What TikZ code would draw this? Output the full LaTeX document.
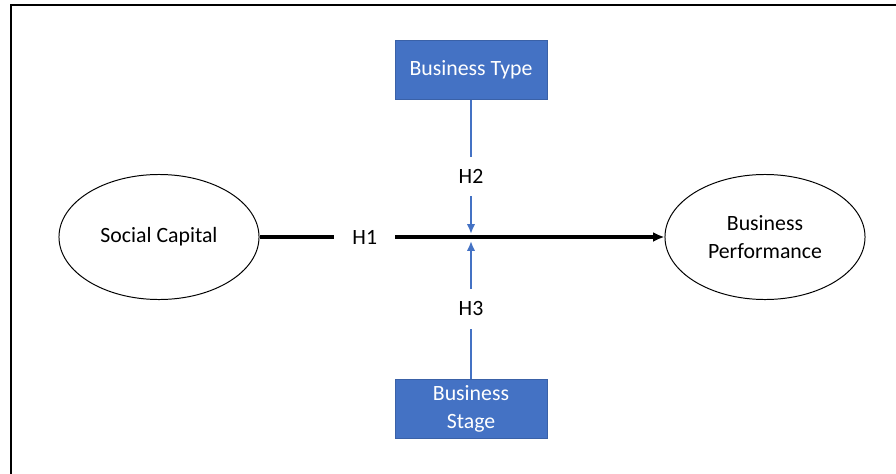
\documentclass[tikz,border=0pt]{standalone}
\usepackage{fontspec}
\setmainfont{Carlito}
\usepackage{xcolor}
\usetikzlibrary{shapes.geometric, arrows.meta, positioning}

\definecolor{modblue}{HTML}{4472C4}

\tikzset{
  construct/.style={draw, ellipse, line width=0.7pt, minimum width=5cm, minimum height=3.125cm, align=center, font=\fontsize{15.5}{19.5}\selectfont},
  moderator/.style={draw=modblue!85!black, fill=modblue, text=white, minimum width=3.8cm, minimum height=1.475cm, align=center, font=\fontsize{15.5}{19.5}\selectfont},
  mainpath/.style={-{Latex[length=8pt,width=7pt]}, line width=2.3pt},
  modpath/.style={-{Latex[length=7pt,width=6pt]}, line width=1.7pt, draw=modblue},
  hlabel/.style={fill=white, font=\fontsize{15.5}{19.5}\selectfont}
}

\begin{document}
\begin{tikzpicture}[x=0.025cm, y=-0.025cm]
\useasboundingbox (0,0) rectangle (896,474);
\draw[line width=1.5pt] (11,474) -- (11,5) -- (896,5);

\node[construct] (social) at (159,237) {Social Capital};
\node[construct] (perf) at (765,237) {Business\\Performance};
\node[moderator] (btype) at (471,70) {Business Type};
\node[moderator] (bstage) at (471,409) {Business\\Stage};

\coordinate (hitup) at (471,234);
\coordinate (hitdown) at (471,241);

\draw[mainpath] (social) -- node[hlabel, pos=0.26, inner xsep=13pt] {H1} (perf);
\draw[modpath] (btype) -- node[hlabel, pos=0.57, inner ysep=9pt] {H2} (hitup);
\draw[modpath] (bstage) -- node[hlabel, pos=0.51, inner ysep=9pt] {H3} (hitdown);
\end{tikzpicture}
\end{document}
